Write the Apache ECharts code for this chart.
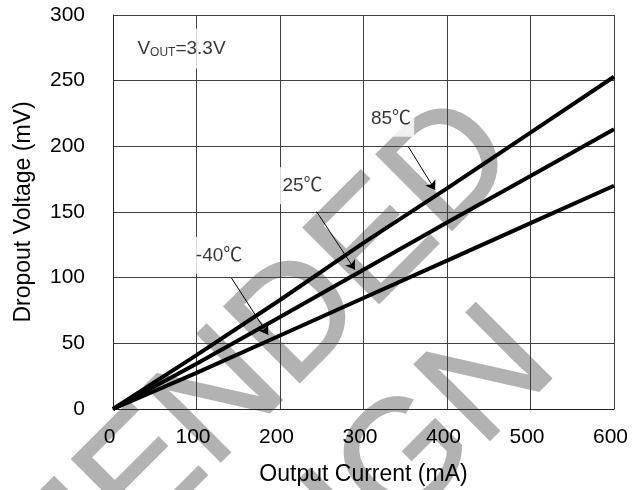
<!DOCTYPE html>
<html><head><meta charset="utf-8">
<script src="https://cdn.jsdelivr.net/npm/echarts/dist/echarts.min.js"></script>
<style>html,body{margin:0;padding:0;background:#fff}#c{width:642px;height:490px}</style>
</head><body><div id="c"></div>
<script>
// ---- data ----
const currents = [0, 100, 200, 300, 400, 500, 600];        // mA
const drop85  = [0, 41, 83, 126.5, 168, 210.5, 253];       // mV
const drop25  = [0, 34.5, 70, 106, 142, 177.5, 213];
const dropM40 = [0, 27.5, 56, 84.5, 113, 141.5, 170];
const seriesNames = ['85℃', '25℃', '-40℃'];
const xTicks = [0, 100, 200, 300, 400, 500, 600];
const yTicks = [0, 50, 100, 150, 200, 250, 300];
// annotation labels (data coordinates of label centre)
const annoText = ['85℃', '25℃', '-40℃'];
const annoX = [333, 227, 127];
const annoY = [221.3, 169.9, 117];
// arrows: from (label) -> to (curve), data coordinates
const arrowFrom = [[353.6, 199.8], [243.8, 150.3], [141.9, 99.7]];
const arrowTo   = [[385.7, 166.8], [289.8, 106.0], [185.8, 56.5]];
// condition text
const condX = 82, condY = 274.5;
const watermark = ['RECOMMENDED', 'FOR NEW DESIGN'];

const FONT = "'Liberation Sans', Arial, 'Noto Sans CJK SC', sans-serif";
const chart = echarts.init(document.getElementById('c'), null, {renderer: 'canvas'});
const pts = arr => currents.map((x, i) => [x, arr[i]]);

const lineStyle = {color: '#000', width: 4};
const mkSeries = (name, arr, extra) => Object.assign({
  name, type: 'line', data: pts(arr), symbol: 'none', smooth: false,
  lineStyle, itemStyle: {color: '#000'}, z: 3, silent: true,
  emphasis: {disabled: true}
}, extra || {});

const wmStyle = t => ({text: t, fontSize: 155, fontFamily: "'Liberation Sans', Arial, sans-serif",
  fill: '#b2b2b2', stroke: '#b2b2b2', lineWidth: 2,
  align: 'right', verticalAlign: 'middle', textAlign: 'right', textVerticalAlign: 'middle'});

chart.setOption({
  animation: false,
  backgroundColor: '#fff',
  textStyle: {fontFamily: FONT},
  grid: {left: 113, top: 15, right: 28, bottom: 81, containLabel: false, outerBoundsMode: 'none'},
  graphic: {elements: [
    {type: 'text', x: 492, y: 129.5, rotation: Math.PI / 4, z: -10, silent: true, style: wmStyle(watermark[0])},
    {type: 'text', x: 530, y: 339.5, rotation: Math.PI / 4, z: -10, silent: true, style: wmStyle(watermark[1])}
  ]},
  xAxis: {
    type: 'value', min: xTicks[0], max: xTicks[xTicks.length - 1], interval: 100,
    name: 'Output Current (mA)', nameLocation: 'middle', nameGap: 54,
    nameTextStyle: {fontSize: 23, color: '#000', fontFamily: FONT},
    axisLine: {show: true, lineStyle: {color: '#222', width: 1}},
    axisTick: {show: false},
    axisLabel: {fontSize: 21, color: '#000', margin: 18, padding: [0, 7, 0, 0], fontFamily: FONT},
    splitLine: {show: true, lineStyle: {color: '#404040', width: 1}}
  },
  yAxis: {
    type: 'value', min: yTicks[0], max: yTicks[yTicks.length - 1], interval: 50,
    name: 'Dropout Voltage (mV)', nameLocation: 'middle', nameGap: 78,
    nameTextStyle: {fontSize: 23, color: '#000', fontFamily: FONT},
    axisLine: {show: true, lineStyle: {color: '#222', width: 1}},
    axisTick: {show: false},
    axisLabel: {fontSize: 21, color: '#000', margin: 28, fontFamily: FONT},
    splitLine: {show: true, lineStyle: {color: '#404040', width: 1}}
  },
  series: [
    mkSeries(seriesNames[0], drop85, {
      markLine: {
        silent: true, animation: false, symbol: ['none', 'arrow'], symbolSize: 9,
        label: {show: false}, emphasis: {disabled: true},
        lineStyle: {color: '#000', width: 1, type: 'solid'},
        data: arrowFrom.map((f, i) => [{coord: f}, {coord: arrowTo[i]}])
      }
    }),
    mkSeries(seriesNames[1], drop25),
    mkSeries(seriesNames[2], dropM40),
    {
      type: 'scatter', silent: true, z: 5, symbolSize: 1,
      itemStyle: {color: 'rgba(0,0,0,0)'},
      data: annoText.map((t, i) => ({name: t, value: [annoX[i], annoY[i]]})),
      label: {show: true, position: 'inside', formatter: p => p.name,
              fontSize: 19, color: '#000', fontFamily: FONT,
              backgroundColor: '#fff', padding: [9, 3]}
    },
    {
      type: 'scatter', silent: true, z: 5, symbolSize: 1,
      itemStyle: {color: 'rgba(0,0,0,0)'},
      data: [{name: 'VOUT', value: [condX, condY]}],
      label: {show: true, position: 'inside', formatter: '{v|V}{s|OUT}{v|=3.3V}',
              backgroundColor: '#fff', padding: [10, 3],
              rich: {
                v: {fontSize: 19, color: '#000', fontFamily: FONT, lineHeight: 20},
                s: {fontSize: 12, color: '#000', fontFamily: FONT, lineHeight: 12, verticalAlign: 'bottom'}
              }}
    }
  ]
});
</script></body></html>
